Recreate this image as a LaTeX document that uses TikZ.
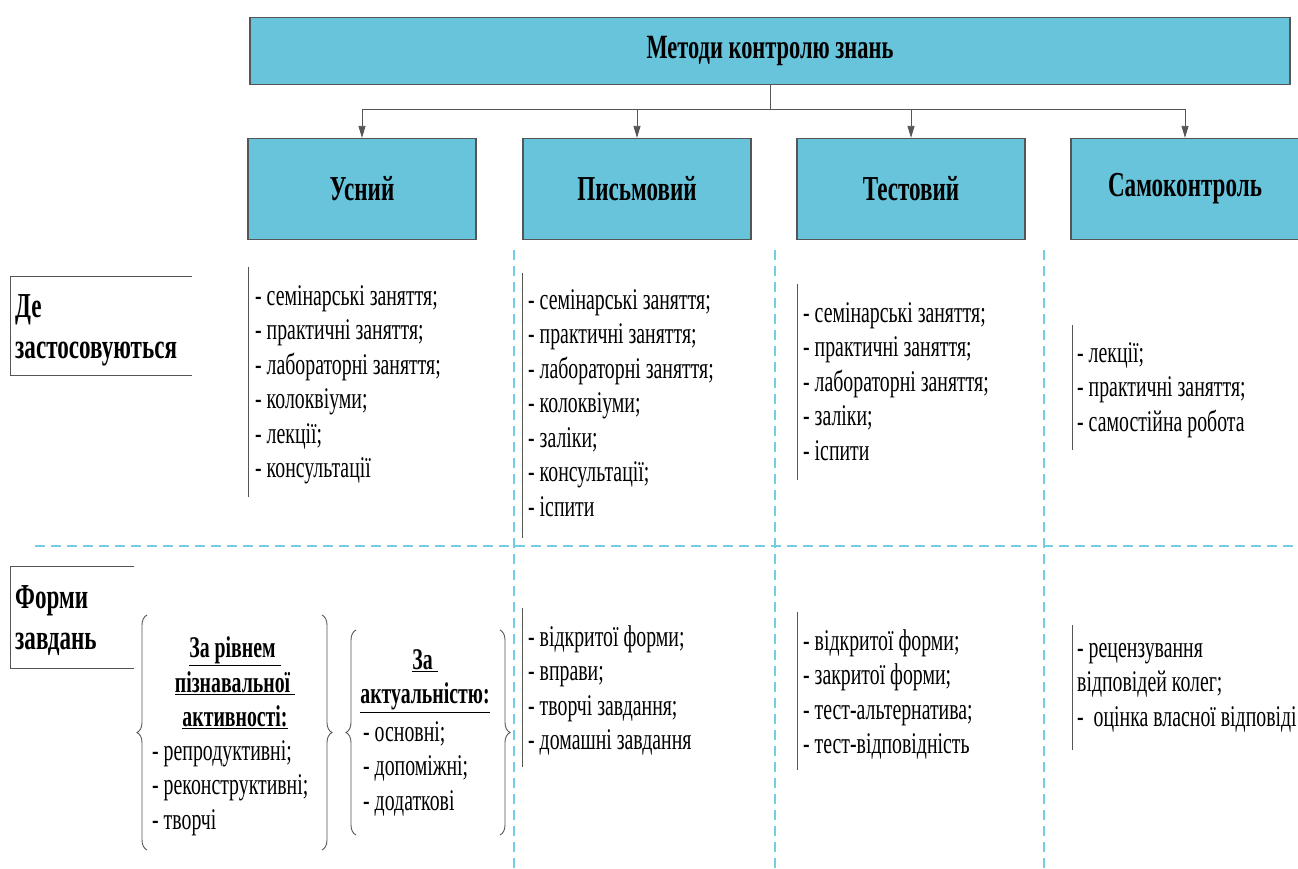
\documentclass[tikz,border=0pt]{standalone}
\usepackage{fontspec}
\setmainfont[FakeStretch=0.66]{Liberation Serif}
\usetikzlibrary{arrows.meta,decorations.pathreplacing}
\definecolor{boxblue}{HTML}{67C4DB}
\definecolor{dashblue}{HTML}{74CDE2}
\definecolor{edgegray}{HTML}{555555}
\begin{document}
\begin{tikzpicture}[x=1pt,y=-1pt,
  methodbox/.style={draw=edgegray,line width=1.3pt,fill=boxblue,minimum width=228pt,minimum height=101pt,
    font=\fontsize{35}{40}\selectfont\bfseries},
  link/.style={draw=edgegray,line width=0.8pt,-{Triangle[length=12pt,width=7pt]}},
  grid/.style={dashblue,line width=1.6pt,dash pattern=on 10pt off 6pt},
  listtext/.style={anchor=north west,align=left,inner sep=0pt,font=\fontsize{30}{34.5}\selectfont},
  sidetext/.style={anchor=north west,align=left,inner sep=0pt,font=\fontsize{35}{41}\selectfont\bfseries},
  headtext/.style={align=center,inner sep=0pt,font=\fontsize{30}{34.5}\selectfont\bfseries},
  bar/.style={edgegray,line width=1pt},
  curly/.style={edgegray,line width=0.9pt,decorate,decoration={brace,amplitude=10pt}}]
\useasboundingbox (0,0) rectangle (1298,868);

% top and methods
\node[methodbox,minimum width=1040pt,minimum height=67pt,font=\fontsize{34}{40}\selectfont\bfseries] (top) at (770,51) {Методи контролю знань};
\node[methodbox] (oral) at (362,189) {Усний};
\node[methodbox] (written) at (637,189) {Письмовий};
\node[methodbox] (test) at (911,189) {Тестовий};
\node[methodbox] (self) at (1185,189) {Самоконтроль};
\foreach \n in {oral,written,test,self}
  \draw[link] (top.south) -- ++(0,24) -| (\n.north);

% dashed grid
\draw[grid] (35,546) -- (1298,546);
\foreach \x in {514,775,1044}
  \draw[grid] (\x,250) -- (\x,868);

% row labels
\draw[bar] (192,276) -- (10,276) -- (10,375) -- (192,375);
\node[sidetext] (where) at (15,294) {Де\\застосовуються};
\draw[bar] (134,566) -- (10,566) -- (10,668) -- (134,668);
\node[sidetext] (forms) at (15,585) {Форми\\завдань};

% where used
\draw[bar] (248,267) -- (248,497);
\node[listtext] (oralwhere) at (255,285) {- семінарські заняття;\\- практичні заняття;\\- лабораторні заняття;\\- колоквіуми;\\- лекції;\\- консультації};
\draw[bar] (522,273) -- (522,538);
\node[listtext] (writtenwhere) at (528,289) {- семінарські заняття;\\- практичні заняття;\\- лабораторні заняття;\\- колоквіуми;\\- заліки;\\- консультації;\\- іспити};
\draw[bar] (797,284) -- (797,480);
\node[listtext] (testwhere) at (803,302) {- семінарські заняття;\\- практичні заняття;\\- лабораторні заняття;\\- заліки;\\- іспити};
\draw[bar] (1072,325) -- (1072,450);
\node[listtext] (selfwhere) at (1077,342) {- лекції;\\- практичні заняття;\\- самостійна робота};

% task forms
\draw[curly] (147,850) -- (147,615);
\draw[curly] (322,615) -- (322,850);
\node[headtext] (levelhead) at (235,683) {\underline{За рівнем }\\\underline{пізнавальної }\\\underline{активності:}};
\node[listtext] (levellist) at (152,740) {- репродуктивні;\\- реконструктивні;\\- творчі};
\draw[curly] (356,835) -- (356,630);
\draw[curly] (500,630) -- (500,835);
\node[headtext] (acthead) at (425,681) {\underline{За }\\\underline{актуальністю:}};
\node[listtext] (actlist) at (363,721) {- основні;\\- допоміжні;\\- додаткові};

\draw[bar] (522,608) -- (522,767);
\node[listtext] (writtenforms) at (528,625) {- відкритої форми;\\- вправи;\\- творчі завдання;\\- домашні завдання};
\draw[bar] (797,612) -- (797,770);
\node[listtext] (testforms) at (803,629) {- відкритої форми;\\- закритої форми;\\- тест-альтернатива;\\- тест-відповідність};
\draw[bar] (1072,625) -- (1072,750);
\node[listtext] (selfforms) at (1077,643) {- рецензування\\відповідей колег;\\-\ \ оцінка власної відповіді};
\end{tikzpicture}
\end{document}
